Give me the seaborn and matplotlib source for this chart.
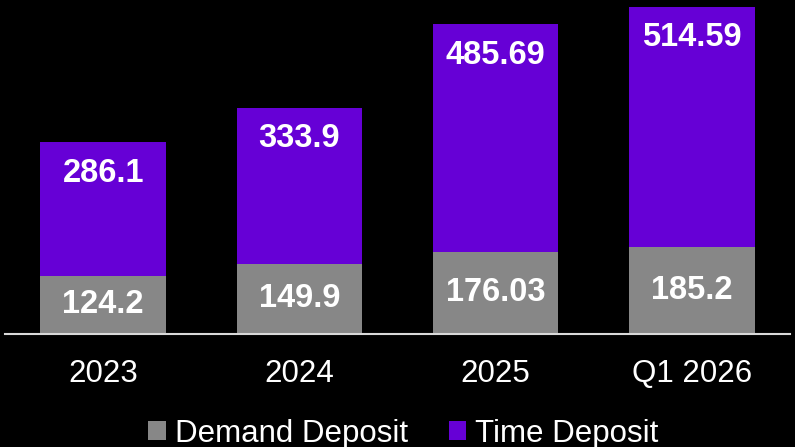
import pandas as pd
import matplotlib
matplotlib.use('Agg')
import matplotlib.pyplot as plt
import seaborn as sns
from matplotlib.patches import Patch

periods = ['2023', '2024', '2025', 'Q1 2026']
demand = [124.2, 149.9, 176.03, 185.2]
time_dep = [286.1, 333.9, 485.69, 514.59]
demand_labels = ['124.2', '149.9', '176.03', '185.2']
time_labels = ['286.1', '333.9', '485.69', '514.59']

GRAY = '#878787'
PURPLE = '#6600D6'


def build_frame():
    df = pd.DataFrame({'period': periods, 'demand': demand, 'time': time_dep})
    df['total'] = df['demand'] + df['time']
    return df


def main():
    sns.set_style('dark')
    plt.rcParams['font.family'] = ['Liberation Sans', 'DejaVu Sans']
    df = build_frame()

    fig = plt.figure(figsize=(7.95, 4.47), dpi=100, facecolor='black')
    ax = fig.add_axes([5 / 795, 113 / 447, 785 / 795, 334 / 447])
    ax.set_facecolor('black')

    # stacked look: total first, demand drawn over it
    sns.barplot(data=df, x='period', y='total', color=PURPLE, width=0.64,
                saturation=1, ax=ax, edgecolor='none')
    sns.barplot(data=df, x='period', y='demand', color=GRAY, width=0.64,
                saturation=1, ax=ax, edgecolor='none')

    ax.set_xlim(-0.5, 3.5)
    ax.set_ylim(0, 713.7)

    for i, row in df.iterrows():
        ax.text(i, row['demand'] / 2, demand_labels[i], ha='center', va='center',
                color='white', fontsize=23.5, fontweight='bold')
        ax.annotate(time_labels[i], xy=(i, row['total']), xytext=(0, -22.5),
                    textcoords='offset points', ha='center', va='center',
                    color='white', fontsize=23.5, fontweight='bold')

    ax.set_xlabel('')
    ax.set_ylabel('')
    ax.set_yticks([])
    ax.tick_params(axis='x', length=0, colors='white', labelsize=22.5, pad=18)
    for side in ['top', 'right', 'left']:
        ax.spines[side].set_visible(False)
    ax.spines['bottom'].set_visible(True)
    ax.spines['bottom'].set_color('#d9d9d9')
    ax.spines['bottom'].set_linewidth(1.5)
    ax.grid(False)

    handles = [Patch(facecolor=GRAY, edgecolor='none', label='Demand Deposit'),
               Patch(facecolor=PURPLE, edgecolor='none', label='Time Deposit')]
    fig.legend(handles=handles, loc='center', bbox_to_anchor=(0.5076, 0.03),
               ncol=2, frameon=False, fontsize=22.5, labelcolor='white',
               handlelength=0.55, handleheight=0.55, handletextpad=0.3,
               columnspacing=1.3)

    fig.savefig('out.png', dpi=100, facecolor='black')


if __name__ == "__main__":
    main()
